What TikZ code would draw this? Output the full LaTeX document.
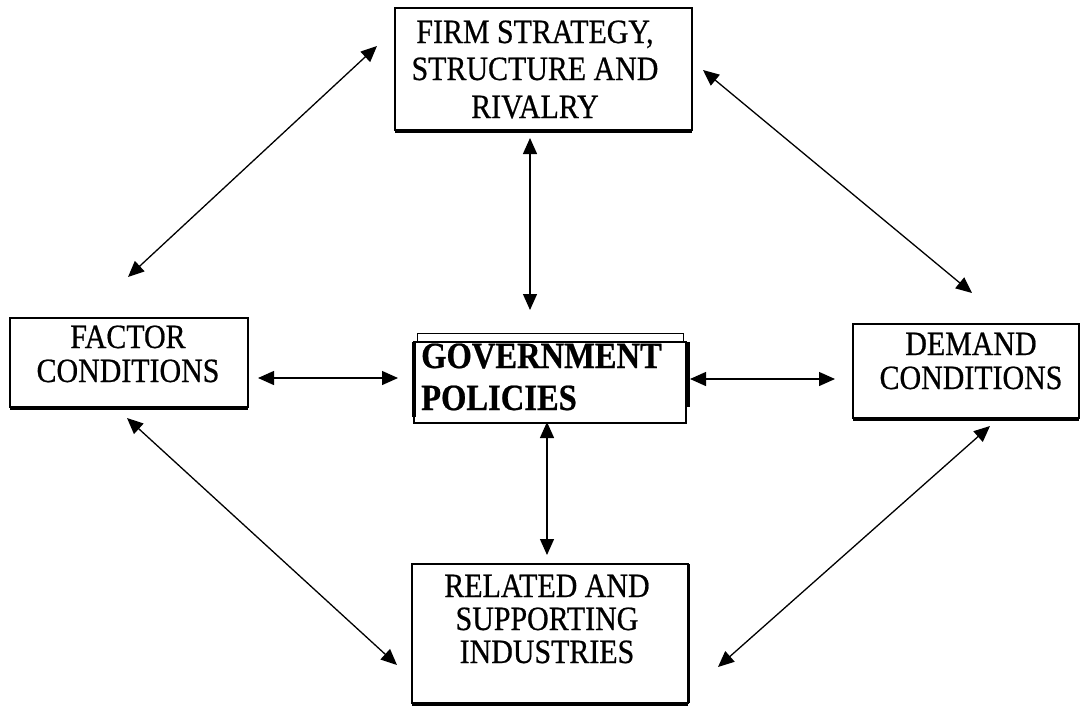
\documentclass[tikz,border=0pt]{standalone}
\usepackage{fontspec}
\setmainfont{Liberation Serif}[FakeStretch=0.88,FakeBold=0.6]
\usetikzlibrary{arrows.meta}
\begin{document}
\begin{tikzpicture}[x=1pt,y=-1pt,
  box/.style={draw, line width=1.6pt, inner sep=0pt, outer sep=0pt},
  heavy/.style={line width=3.6pt},
  lbl/.style={inner sep=0pt, anchor=base, font=\fontsize{34}{36}\selectfont},
  boldlbl/.style={inner sep=0pt, anchor=base west, font=\fontsize{37}{40}\selectfont\bfseries},
  twoway/.style={line width=1.3pt, {Triangle[length=16pt,width=14pt]}-{Triangle[length=16pt,width=14pt]}}
]
\fill[white] (0,0) rectangle (1081,707);
\useasboundingbox (0,0) rectangle (1081,707);

% the five boxes
\node[box, minimum width=297pt, minimum height=122pt] (firm) at (543.5,69) {};
\node[box, minimum width=238pt, minimum height=89pt] (factor) at (129,362.5) {};
\node[box, minimum width=226pt, minimum height=94pt] (demand) at (966,371) {};
\node[box, minimum width=276pt, minimum height=139pt] (related) at (550,633.5) {};
\node[box, line width=1.4pt, minimum width=272pt, minimum height=81pt] (gov) at (550,382.5) {};

% heavier lower edges
\draw[heavy] ([shift={(0,1)}]firm.south west) -- ([shift={(0,1)}]firm.south east);
\draw[heavy] ([shift={(0,1)}]factor.south west) -- ([shift={(0,1)}]factor.south east);
\draw[heavy] ([shift={(0,1)}]demand.south west) -- ([shift={(0,1)}]demand.south east);
\draw[heavy] ([shift={(0,1)}]related.south west) -- ([shift={(0,1)}]related.south east);
\draw[line width=2.6pt] ([shift={(1,0)}]related.south east) -- ([shift={(1,0)}]related.north east);

% government box: double top edge and heavy sides
\draw[line width=1pt] ([shift={(3,0)}]gov.north west) -- ++(0,-9)
  -- ([shift={(-3,-9)}]gov.north east) -- ([shift={(-3,0)}]gov.north east);
\draw[line width=3.4pt] (gov.north west) -- ([shift={(0,-6)}]gov.south west);
\draw[line width=4.4pt] ([shift={(2,0)}]gov.north east) -- ([shift={(2,-16)}]gov.south east);

% labels
\node[lbl] (firmA) at (535,43) {FIRM STRATEGY,};
\node[lbl] (firmB) at (535,80) {STRUCTURE AND};
\node[lbl] (firmC) at (535,118) {RIVALRY};
\node[lbl] (factorA) at (128,348) {FACTOR};
\node[lbl] (factorB) at (128,382) {CONDITIONS};
\node[lbl] (demandA) at (971,355) {DEMAND};
\node[lbl] (demandB) at (971,389) {CONDITIONS};
\node[lbl] (relatedA) at (547,597) {RELATED AND};
\node[lbl] (relatedB) at (547,630) {SUPPORTING};
\node[lbl] (relatedC) at (547,663) {INDUSTRIES};
\node[boldlbl] (govA) at (421,368) {GOVERNMENT};
\node[boldlbl] (govB) at (421,410) {POLICIES};

% two-way links
\draw[twoway] ([shift={(-18,38)}]firm.north west) -- ([shift={(-1,-41)}]factor.north);
\draw[twoway] ([shift={(11,62)}]firm.north east) -- ([shift={(6,-31)}]demand.north);
\draw[twoway] ([shift={(-13.5,8)}]firm.south) -- ([shift={(-20,-32)}]gov.north);
\draw[twoway] ([shift={(10,15.5)}]factor.east) -- ([shift={(-16,-4.5)}]gov.west);
\draw[twoway] ([shift={(4,-3.5)}]gov.east) -- ([shift={(-18,8)}]demand.west);
\draw[twoway] ([shift={(-3,-1)}]gov.south) -- ([shift={(-3,-9)}]related.north);
\draw[twoway] ([shift={(-2,11)}]factor.south) -- ([shift={(-15,31.5)}]related.west);
\draw[twoway] ([shift={(24,8)}]demand.south) -- ([shift={(30,33.5)}]related.east);
\end{tikzpicture}
\end{document}
